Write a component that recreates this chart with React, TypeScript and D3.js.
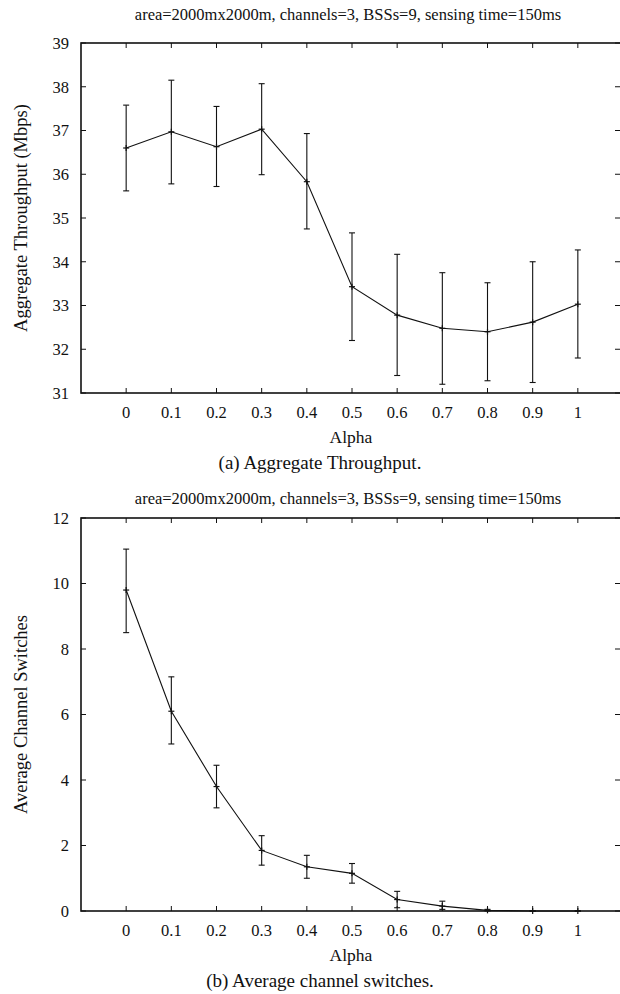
import React, { useEffect, useRef } from "react";
import * as d3 from "d3";

const alpha = [0, 0.1, 0.2, 0.3, 0.4, 0.5, 0.6, 0.7, 0.8, 0.9, 1];

const throughput = [36.6, 36.97, 36.63, 37.03, 35.83, 33.43, 32.78, 32.48, 32.4, 32.62, 33.03];
const throughputLow = [35.62, 35.78, 35.72, 35.99, 34.75, 32.2, 31.4, 31.2, 31.28, 31.24, 31.8];
const throughputHigh = [37.58, 38.15, 37.55, 38.07, 36.93, 34.66, 34.17, 33.75, 33.52, 34.0, 34.27];
const throughputTicks = [31, 32, 33, 34, 35, 36, 37, 38, 39];

const switches = [9.8, 6.1, 3.8, 1.85, 1.35, 1.15, 0.35, 0.15, 0.02, 0, 0];
const switchesLow = [8.5, 5.1, 3.15, 1.4, 1.0, 0.85, 0.1, 0.05, 0, 0, 0];
const switchesHigh = [11.05, 7.15, 4.45, 2.3, 1.7, 1.45, 0.6, 0.3, 0.05, 0, 0];
const switchesTicks = [0, 2, 4, 6, 8, 10, 12];

const xTickLabels = ["0", "0.1", "0.2", "0.3", "0.4", "0.5", "0.6", "0.7", "0.8", "0.9", "1"];

const title = "area=2000mx2000m, channels=3, BSSs=9, sensing time=150ms";

const FONT = "Liberation Serif, Times New Roman, DejaVu Serif, serif";

function label(g, x, y, txt, size, anchor = "middle") {
  return g
    .append("text")
    .attr("x", x)
    .attr("y", y)
    .attr("text-anchor", anchor)
    .attr("font-family", FONT)
    .attr("font-size", size)
    .attr("fill", "#111")
    .text(txt);
}

function drawPanel(svg, opts) {
  const { top, bottom, yDomain, yTicks, vals, lo, hi, yLabel, caption, titleY } = opts;
  const left = 81;
  const right = 623;
  const x = d3.scaleLinear().domain([-0.1, 1.1]).range([left, right]);
  const y = d3.scaleLinear().domain(yDomain).range([bottom, top]);
  const g = svg.append("g");
  const ink = "#111";
  const tl = 5;

  // title
  label(g, 348, titleY, title, 16.5);

  // ticks
  alpha.forEach((a, i) => {
    g.append("line").attr("x1", x(a)).attr("x2", x(a)).attr("y1", bottom).attr("y2", bottom - tl).attr("stroke", ink);
    g.append("line").attr("x1", x(a)).attr("x2", x(a)).attr("y1", top).attr("y2", top + tl).attr("stroke", ink);
    label(g, x(a), bottom + 25, xTickLabels[i], 16.5);
  });
  yTicks.forEach((t) => {
    g.append("line").attr("x1", left).attr("x2", left + tl).attr("y1", y(t)).attr("y2", y(t)).attr("stroke", ink);
    g.append("line").attr("x1", right).attr("x2", right - tl - 3).attr("y1", y(t)).attr("y2", y(t)).attr("stroke", ink);
    label(g, left - 12, y(t), t, 16.5, "end").attr("dy", "0.35em");
  });

  // frame
  g.append("rect")
    .attr("x", left)
    .attr("y", top)
    .attr("width", right - left)
    .attr("height", bottom - top)
    .attr("fill", "none")
    .attr("stroke", ink)
    .attr("stroke-width", 1.6);

  // error bars
  const cap = 3;
  alpha.forEach((a, i) => {
    const cx = x(a);
    g.append("line").attr("x1", cx).attr("x2", cx).attr("y1", y(lo[i])).attr("y2", y(hi[i])).attr("stroke", ink).attr("stroke-width", 1.1);
    [lo[i], hi[i]].forEach((v) => {
      g.append("line").attr("x1", cx - cap).attr("x2", cx + cap).attr("y1", y(v)).attr("y2", y(v)).attr("stroke", ink).attr("stroke-width", 1.1);
    });
  });

  // line
  const line = d3
    .line()
    .x((d, i) => x(alpha[i]))
    .y((d) => y(d));
  g.append("path").datum(vals).attr("d", line).attr("fill", "none").attr("stroke", ink).attr("stroke-width", 1.1);

  // point markers
  vals.forEach((v, i) => {
    const cx = x(alpha[i]);
    const cy = y(v);
    g.append("line").attr("x1", cx - 3).attr("x2", cx + 3).attr("y1", cy).attr("y2", cy).attr("stroke", ink).attr("stroke-width", 1.2);
    g.append("line").attr("x1", cx).attr("x2", cx).attr("y1", cy - 3).attr("y2", cy + 3).attr("stroke", ink).attr("stroke-width", 1.2);
  });

  // axis labels
  label(g, 351, bottom + 50, "Alpha", 17.5);
  label(g, 0, 0, yLabel, 18.5).attr("transform", `translate(27, ${(top + bottom) / 2}) rotate(-90)`);
  label(g, 320, bottom + 76, caption, 19);
}

export default function App() {
  const ref = useRef(null);

  useEffect(() => {
    const svg = d3.select(ref.current);
    svg.selectAll("*").remove();

    drawPanel(svg, {
      top: 43,
      bottom: 393,
      titleY: 20,
      yDomain: [31, 39],
      yTicks: throughputTicks,
      vals: throughput,
      lo: throughputLow,
      hi: throughputHigh,
      yLabel: "Aggregate Throughput (Mbps)",
      caption: "(a)  Aggregate Throughput.",
    });

    drawPanel(svg, {
      top: 518,
      bottom: 911,
      titleY: 504,
      yDomain: [0, 12],
      yTicks: switchesTicks,
      vals: switches,
      lo: switchesLow,
      hi: switchesHigh,
      yLabel: "Average Channel Switches",
      caption: "(b)  Average channel switches.",
    });
  }, []);

  return (
    <svg
      ref={ref}
      width={620}
      height={994}
      style={{ position: "absolute", left: 0, top: 0, background: "#fff" }}
    ></svg>
  );
}
